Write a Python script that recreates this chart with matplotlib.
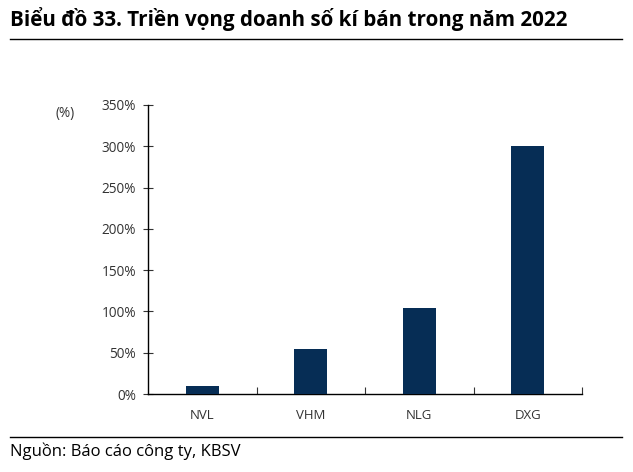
import matplotlib
matplotlib.use("Agg")
import matplotlib.pyplot as plt
from matplotlib.lines import Line2D

categories = ["NVL", "VHM", "NLG", "DXG"]
values = [10, 54, 104, 300]
yticks = [0, 50, 100, 150, 200, 250, 300, 350]
ytick_labels = ["0%", "50%", "100%", "150%", "200%", "250%", "300%", "350%"]

plt.rcParams['font.family'] = ['Open Sans', 'DejaVu Sans']

fig = plt.figure(figsize=(6.33, 4.72), dpi=100)
W, H = 633, 472

ax = fig.add_axes([148/W, 1-394/H, (582-148)/W, (394-105)/H])
x = list(range(len(categories)))
ax.bar(x, values, width=0.30, color="#062D55", zorder=3)
ax.set_xlim(-0.5, len(categories)-0.5)
ax.set_ylim(0, 350)
ax.set_yticks(yticks)
ax.set_yticklabels(ytick_labels, fontsize=9.8, color="#333333")
ax.set_xticks(x)
ax.set_xticklabels(categories, fontsize=9.5, color="#333333")
for s in ["top", "right"]:
    ax.spines[s].set_visible(False)
ax.spines["left"].set_linewidth(1.0)
ax.spines["bottom"].set_linewidth(1.0)
ax.tick_params(axis="y", direction="inout", length=7, width=0.8, pad=5, color="#333333")
ax.tick_params(axis="x", length=0, pad=11)
# category-boundary ticks on x-axis
ax.set_xticks([0.5, 1.5, 2.5, 3.5], minor=True)
ax.tick_params(axis="x", which="minor", direction="in", length=5, width=0.8, color="#333333")

fig.text(65/W, 1-113/H, "(%)", fontsize=9.8, color="#333333", ha="center", va="center")

fig.text(10/W, 1-19/H, "Biểu đồ 33. Triền vọng doanh số kí bán trong năm 2022",
         fontsize=14.9, fontweight="bold", color="black", ha="left", va="center")
fig.add_artist(Line2D([10/W, 622/W], [1-39/H, 1-39/H], color="black", lw=1.0))
fig.add_artist(Line2D([10/W, 622/W], [1-437/H, 1-437/H], color="black", lw=1.0))
fig.text(10/W, 1-451/H, "Nguồn: Báo cáo công ty, KBSV", fontsize=12,
         color="black", ha="left", va="center")

fig.savefig("out.png", dpi=100)
